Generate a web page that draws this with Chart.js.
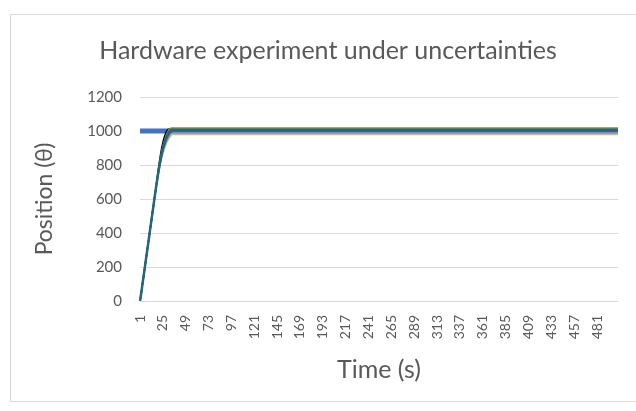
<!DOCTYPE html>
<html lang="en">
<head>
    <meta charset="UTF-8">
    <title>Hardware experiment under uncertainties</title>
    <script src="https://cdn.jsdelivr.net/npm/chart.js"></script>
    <style>
        html, body { margin: 0; padding: 0; background: #fff; }
        #frame { position: absolute; left: 10px; top: 14px; width: 640px; height: 386px; border: 1px solid #d9d9d9; }
        #wrap { position: absolute; left: 0; top: 0; width: 636px; height: 411px; }
    </style>
</head>
<body>
    <div id="frame"></div>
    <div id="wrap"><canvas id="myChart"></canvas></div>

    <script>
        // number of samples (time steps 1..N)
        var N = 503;
        var labelStep = 24;

        // reference position
        var reference = 1000;

        // start of the response, same for every run (samples 1..18)
        var riseShared = [0, 35, 75, 115, 155, 195, 235, 275, 315, 355, 395, 435, 475, 515, 555, 595, 635, 675];

        // end of the rise for each run (samples 19..35)
        var riseBlack  = [722, 765, 805, 842, 876, 906, 932, 954, 972, 987, 998, 1006, 1010, 1011, 1010, 1009, 1008];
        var riseOlive  = [715, 752, 788, 822, 853, 881, 906, 928, 947, 964, 979, 992, 1003, 1011, 1015, 1017, 1017];
        var riseGreen  = [713, 750, 785, 818, 848, 875, 899, 920, 939, 955, 969, 981, 992, 1000, 1006, 1009, 1011];
        var riseSteel  = [711, 746, 779, 810, 838, 864, 887, 907, 925, 941, 955, 967, 978, 987, 993, 997, 999];
        var risePurple = [709, 743, 775, 805, 832, 857, 879, 898, 915, 930, 944, 956, 966, 975, 982, 987, 989];
        var riseLime   = [706, 738, 768, 796, 822, 845, 866, 885, 902, 917, 930, 942, 952, 961, 968, 975, 980];
        var riseTeal   = [712, 748, 782, 814, 843, 870, 894, 915, 934, 950, 964, 976, 985, 993, 998, 1002, 1004];

        // settled value of each run
        var steadyBlack = 1008, steadyOlive = 1017, steadyGreen = 1011, steadySteel = 999;
        var steadyPurple = 989, steadyLime = 980, steadyTeal = 1004;

        var labels = [];
        for (var i = 1; i <= N; i++) labels.push(String(i));

        function run(tail, steady) {
            var d = riseShared.concat(tail);
            while (d.length < N) d.push(steady);
            return d;
        }

        var refData = [];
        while (refData.length < N) refData.push(reference);

        function line(label, data, color, width, order) {
            return {
                label: label, data: data, borderColor: color, backgroundColor: color,
                borderWidth: width, pointRadius: 0, fill: false, tension: 0.3, order: order
            };
        }

        var font = 'Lato, "Open Sans", sans-serif';
        var grey = '#595959';

        var ctx = document.getElementById('myChart').getContext('2d');
        var myChart = new Chart(ctx, {
            type: 'line',
            data: {
                labels: labels,
                datasets: [
                    line('Reference', refData, '#4472C4', 5, 9),
                    line('Run 1', run(riseBlack, steadyBlack), '#000000', 1.5, 8),
                    line('Run 2', run(riseLime, steadyLime), '#BFC47C', 1.5, 7),
                    line('Run 3', run(risePurple, steadyPurple), '#8C7FC6', 1.5, 6),
                    line('Run 4', run(riseSteel, steadySteel), '#3D6C9C', 1.5, 5),
                    line('Run 5', run(riseOlive, steadyOlive), '#8C8A48', 1.5, 4),
                    line('Run 6', run(riseGreen, steadyGreen), '#466B35', 1.5, 3),
                    line('Run 7', run(riseTeal, steadyTeal), '#22687A', 2.5, 2)
                ]
            },
            options: {
                responsive: true,
                maintainAspectRatio: false,
                animation: false,
                layout: { padding: { left: 38, right: 18, top: 0, bottom: 22 } },
                scales: {
                    x: {
                        grid: { display: false },
                        border: { display: false },
                        ticks: {
                            autoSkip: false, maxRotation: 90, minRotation: 90,
                            padding: 6, color: grey, font: { family: font, size: 14 },
                            callback: function (v, i) { return i % labelStep === 0 ? labels[i] : ''; }
                        },
                        title: { display: true, text: 'Time (s)', color: grey, font: { family: font, size: 25 }, padding: { top: 0, bottom: 4 } },
                        afterFit: function (s) { s.height = 88; s.paddingLeft = 0; s.paddingRight = 0; }
                    },
                    y: {
                        min: 0, max: 1200,
                        grid: { color: '#d9d9d9', lineWidth: 1, drawTicks: false },
                        border: { display: false },
                        ticks: {
                            stepSize: 200, padding: 18, color: grey, font: { family: font, size: 15 },
                            callback: function (v) { return String(v); }
                        },
                        title: { display: true, text: 'Position (θ)', color: grey, font: { family: font, size: 23 }, padding: { top: -7, bottom: 0 } },
                        afterFit: function (s) { s.width = 102; }
                    }
                },
                plugins: {
                    legend: { display: false },
                    tooltip: { enabled: false },
                    title: {
                        display: true, text: 'Hardware experiment under uncertainties', color: grey,
                        font: { family: font, size: 25, weight: 'normal' },
                        padding: { top: 36, bottom: 31 }
                    }
                }
            }
        });
    </script>
</body>
</html>
